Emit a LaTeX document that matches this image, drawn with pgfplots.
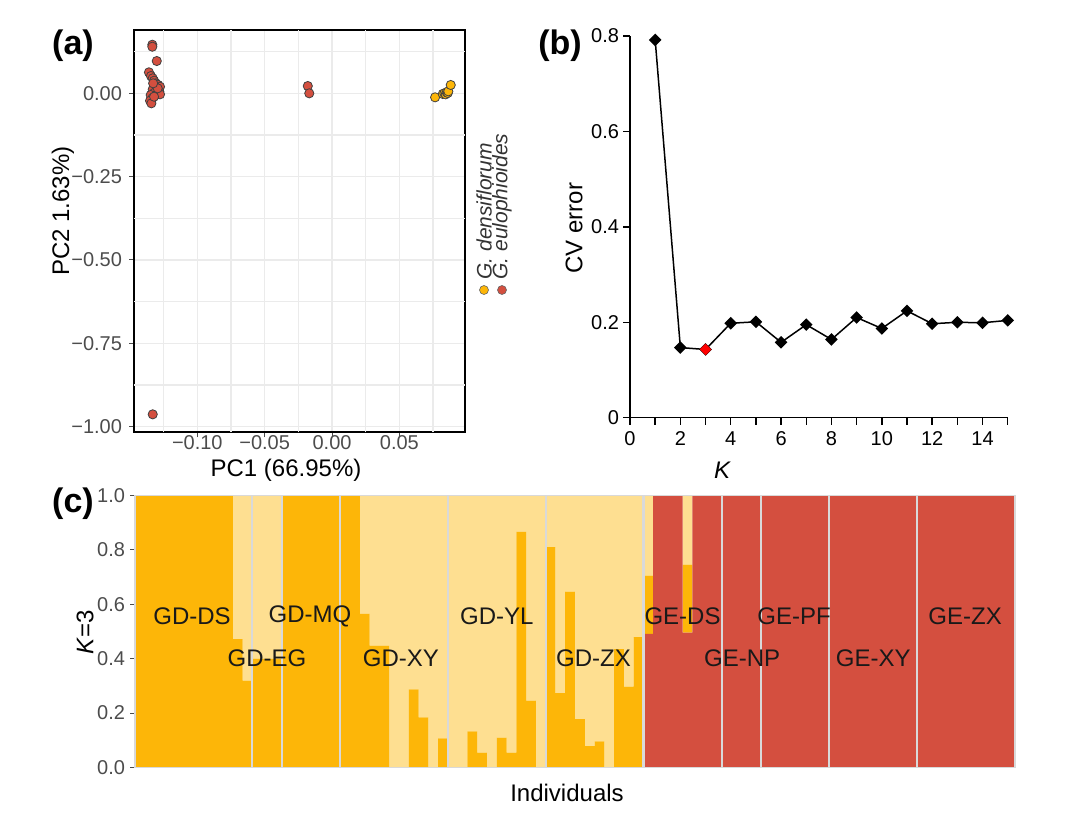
\documentclass[border=0pt]{standalone}
\usepackage{pgfplots}
\pgfplotsset{compat=1.18}
\usepackage{pgfplotstable}
\usepackage{fontspec}
\setmainfont{Liberation Sans}
\definecolor{gred}{HTML}{D44F3F}
\definecolor{gdark}{HTML}{FDB608}
\definecolor{glight}{HTML}{FEDF91}
\definecolor{gridc}{HTML}{EBEBEB}

\pgfplotstableread{
pc1 pc2
-0.1334 0.1458
-0.1334 0.1398
-0.1301 0.0969
-0.1359 0.0630
-0.1344 0.0519
-0.1331 0.0450
-0.1321 0.0378
-0.1307 0.0300
-0.1290 0.0249
-0.1277 0.0198
-0.1314 0.0198
-0.1331 0.0120
-0.1301 0.0099
-0.1282 0.0048
-0.1319 0.0018
-0.1346 -0.0051
-0.1307 -0.0051
-0.1277 -0.0030
-0.1334 -0.0150
-0.1351 -0.0222
-0.1341 -0.0300
-0.1321 -0.0102
-0.1294 0.0150
-0.1328 0.0300
-0.1331 -0.9631
-0.0180 0.0219
-0.0169 0.0000
}\redpts

\pgfplotstableread{
pc1 pc2
0.0765 -0.0120
0.0822 -0.0020
0.0834 0.0000
0.0844 -0.0030
0.0851 0.0030
0.0859 0.0010
0.0863 0.0060
0.0881 0.0250
}\yelpts

\pgfplotstableread{
k cv
1 0.792
2 0.147
3 0.143
4 0.198
5 0.201
6 0.158
7 0.195
8 0.164
9 0.210
10 0.187
11 0.224
12 0.197
13 0.200
14 0.199
15 0.204
}\cvtab

\pgfplotstableread{
xx rr dd ll
0.5 0 1 0
1.5 0 1 0
2.5 0 1 0
3.5 0 1 0
4.5 0 1 0
5.5 0 1 0
6.5 0 1 0
7.5 0 1 0
8.5 0 1 0
9.5 0 1 0
10.5 0 0.472 0.528
11.5 0 0.319 0.681
12.5 0 0.400 0.600
13.5 0 0.400 0.600
14.5 0 0.400 0.600
15.5 0 1 0
16.5 0 1 0
17.5 0 1 0
18.5 0 1 0
19.5 0 1 0
20.5 0 1 0
21.5 0 1 0
22.5 0 1 0
23.5 0 0.565 0.435
24.5 0 0.448 0.552
25.5 0 0.448 0.552
26.5 0 0 1
27.5 0 0 1
28.5 0 0.287 0.713
29.5 0 0.184 0.816
30.5 0 0 1
31.5 0 0.107 0.893
32.5 0 0 1
33.5 0 0 1
34.5 0 0.133 0.867
35.5 0 0.055 0.945
36.5 0 0 1
37.5 0 0.110 0.890
38.5 0 0.055 0.945
39.5 0 0.866 0.134
40.5 0 0.246 0.754
41.5 0 0 1
42.5 0 0.810 0.190
43.5 0 0.273 0.727
44.5 0 0.647 0.353
45.5 0 0.178 0.822
46.5 0 0.079 0.921
47.5 0 0.096 0.904
48.5 0 0 1
49.5 0 0.435 0.565
50.5 0 0.297 0.703
51.5 0 0.479 0.521
52.5 0.491 0.214 0.295
53.5 1 0 0
54.5 1 0 0
55.5 1 0 0
56.5 0.496 0.250 0.254
57.5 1 0 0
58.5 1 0 0
59.5 1 0 0
60.5 1 0 0
61.5 1 0 0
62.5 1 0 0
63.5 1 0 0
64.5 1 0 0
65.5 1 0 0
66.5 1 0 0
67.5 1 0 0
68.5 1 0 0
69.5 1 0 0
70.5 1 0 0
71.5 1 0 0
72.5 1 0 0
73.5 1 0 0
74.5 1 0 0
75.5 1 0 0
76.5 1 0 0
77.5 1 0 0
78.5 1 0 0
79.5 1 0 0
80.5 1 0 0
81.5 1 0 0
82.5 1 0 0
83.5 1 0 0
84.5 1 0 0
85.5 1 0 0
86.5 1 0 0
87.5 1 0 0
88.5 1 0 0
89.5 1 0 0
}\strtab

\begin{document}
\begin{tikzpicture}
\path[use as bounding box] (0,0) rectangle (540pt,409.5pt);

% ---------------- (a) PCA
\begin{axis}[
  at={(67pt,193.35pt)}, anchor=south west, scale only axis,
  width=165.5pt, height=201.15pt,
  xmin=-0.147, xmax=0.0987, ymin=-1.017, ymax=0.19,
  xtick={-0.1,-0.05,0,0.05}, xticklabels={−0.10,−0.05,0.00,0.05},
  ytick={-1,-0.75,-0.5,-0.25,0}, yticklabels={−1.00,−0.75,−0.50,−0.25,0.00},
  extra x ticks={-0.125,-0.075,-0.025,0.025,0.075}, extra x tick labels={},
  extra y ticks={-0.875,-0.625,-0.375,-0.125,0.125}, extra y tick labels={},
  extra tick style={major tick length=0pt, grid=major},
  grid=major, major grid style={gridc, line width=0.75pt},
  axis line style={black, line width=1pt},
  tick style={black!70, line width=0.5pt},
  major tick length=2.5pt,
  tick align=outside, xtick pos=bottom, ytick pos=left,
  tick label style={font=\fontsize{10}{12}\selectfont, text=black!70},
  xticklabel style={yshift=2pt, inner sep=1pt},
  clip=false,
]
\addplot[only marks, mark=*, mark size=2.3pt, mark options={fill=gred, draw=black!75, line width=0.4pt}] table[x=pc1,y=pc2] \redpts;
\addplot[only marks, mark=*, mark size=2.3pt, mark options={fill=gdark, draw=black!75, line width=0.4pt}] table[x=pc1,y=pc2] \yelpts;
\end{axis}
\node[font=\fontsize{12}{14}\selectfont, inner sep=1pt] at (143pt,174.5pt) {PC1 (66.95\%)};
\node[font=\fontsize{12}{14}\selectfont, rotate=90] at (31.5pt,304pt) {PC2 1.63\%)};
% legend
\node[circle, fill=gdark, draw=black!60, line width=0.3pt, inner sep=0pt, minimum size=4.5pt] at (242pt,264.5pt) {};
\node[circle, fill=gred, draw=black!60, line width=0.3pt, inner sep=0pt, minimum size=4.5pt] at (251pt,264.5pt) {};
\node[rotate=90, anchor=west, inner sep=0pt, font=\fontsize{10.5}{12}\selectfont\itshape, text=black!80] at (242pt,269.5pt) {G. densiflorum};
\node[rotate=90, anchor=west, inner sep=0pt, font=\fontsize{10.5}{12}\selectfont\itshape, text=black!80] at (251pt,269.5pt) {G. eulophioides};

% ---------------- (b) CV error
\begin{axis}[
  at={(315pt,200.65pt)}, anchor=south west, scale only axis,
  width=188.85pt, height=190.8pt,
  xmin=0, xmax=15, ymin=0, ymax=0.8,
  axis x line*=bottom, axis y line*=left,
  axis line style={black, line width=0.75pt, -},
  xtick={0,1,...,15}, xticklabels={0,,2,,4,,6,,8,,10,,12,,14,},
  ytick={0,0.2,0.4,0.6,0.8}, yticklabels={0,0.2,0.4,0.6,0.8},
  tick align=outside, major tick length=3.5pt,
  tick style={black, line width=0.75pt},
  tick label style={font=\fontsize{10}{12}\selectfont},
  yticklabel style={xshift=1.5pt},
  clip=false,
]
\addplot[black, line width=0.75pt, mark=square*, mark size=1.85pt, mark options={fill=black, rotate=45}] table[x=k,y=cv] \cvtab;
\addplot[only marks, mark=square*, mark size=1.85pt, color=red, mark options={fill=red, rotate=45}] coordinates {(3,0.143)};
\end{axis}
\node[font=\fontsize{12}{14}\selectfont, rotate=90] at (287pt,295.5pt) {CV error};
\node[font=\fontsize{12}{14}\selectfont\itshape] at (361pt,174.5pt) {K};

% ---------------- (c) STRUCTURE
\begin{axis}[
  at={(67.5pt,25.75pt)}, anchor=south west, scale only axis,
  width=440pt, height=136pt,
  xmin=0, xmax=90, ymin=0, ymax=1,
  ybar stacked, bar width=1,
  xtick=\empty,
  ytick={0,0.2,0.4,0.6,0.8,1}, yticklabels={0.0,0.2,0.4,0.6,0.8,1.0},
  axis line style={black!15, line width=0.75pt},
  tick style={black!70, line width=0.5pt},
  major tick length=2.5pt, tick align=outside, ytick pos=left,
  tick label style={font=\fontsize{10}{12}\selectfont, text=black!70},
  yticklabel style={xshift=1pt},
  axis on top,
]
\addplot[fill=gred, draw=none] table[x=xx,y=rr] \strtab;
\addplot[fill=gdark, draw=none] table[x=xx,y=dd] \strtab;
\addplot[fill=glight, draw=none] table[x=xx,y=ll] \strtab;
\end{axis}
% overlay: separators and population labels
\begin{axis}[
  at={(67.5pt,25.75pt)}, anchor=south west, scale only axis,
  width=440pt, height=136pt,
  xmin=0, xmax=90, ymin=0, ymax=1,
  hide axis, clip=false,
]
\draw[black!15, line width=1.1pt] (axis cs:12,0) -- (axis cs:12,1);
\draw[black!15, line width=1.1pt] (axis cs:15,0) -- (axis cs:15,1);
\draw[black!15, line width=1.1pt] (axis cs:21,0) -- (axis cs:21,1);
\draw[black!15, line width=1.1pt] (axis cs:32,0) -- (axis cs:32,1);
\draw[black!15, line width=1.1pt] (axis cs:42,0) -- (axis cs:42,1);
\draw[black!15, line width=1.1pt] (axis cs:52,0) -- (axis cs:52,1);
\draw[black!15, line width=1.1pt] (axis cs:60,0) -- (axis cs:60,1);
\draw[black!15, line width=1.1pt] (axis cs:64,0) -- (axis cs:64,1);
\draw[black!15, line width=1.1pt] (axis cs:71,0) -- (axis cs:71,1);
\draw[black!15, line width=1.1pt] (axis cs:80,0) -- (axis cs:80,1);
\node[font=\fontsize{12}{14}\selectfont, text=black!90] at (axis cs:5.83,0.555) {GD-DS};
\node[font=\fontsize{12}{14}\selectfont, text=black!90] at (axis cs:13.5,0.40) {GD-EG};
\node[font=\fontsize{12}{14}\selectfont, text=black!90] at (axis cs:17.9,0.555) {GD-MQ};
\node[font=\fontsize{12}{14}\selectfont, text=black!90] at (axis cs:27.2,0.40) {GD-XY};
\node[font=\fontsize{12}{14}\selectfont, text=black!90] at (axis cs:37.0,0.555) {GD-YL};
\node[font=\fontsize{12}{14}\selectfont, text=black!90] at (axis cs:46.9,0.40) {GD-ZX};
\node[font=\fontsize{12}{14}\selectfont, text=black!90] at (axis cs:56.0,0.555) {GE-DS};
\node[font=\fontsize{12}{14}\selectfont, text=black!90] at (axis cs:62.1,0.40) {GE-NP};
\node[font=\fontsize{12}{14}\selectfont, text=black!90] at (axis cs:67.4,0.555) {GE-PF};
\node[font=\fontsize{12}{14}\selectfont, text=black!90] at (axis cs:75.5,0.40) {GE-XY};
\node[font=\fontsize{12}{14}\selectfont, text=black!90] at (axis cs:84.9,0.555) {GE-ZX};
\end{axis}
\node[font=\fontsize{12}{14}\selectfont, rotate=90] at (42.5pt,93.5pt) {\textit{K}=3};
\node[font=\fontsize{12}{14}\selectfont] at (283.5pt,13pt) {Individuals};

% panel labels
\node[font=\bfseries\fontsize{17}{20}\selectfont] at (36.5pt,386.5pt) {(a)};
\node[font=\bfseries\fontsize{17}{20}\selectfont] at (280pt,386.5pt) {(b)};
\node[font=\bfseries\fontsize{17}{20}\selectfont] at (36.5pt,157.5pt) {(c)};
\end{tikzpicture}
\end{document}
